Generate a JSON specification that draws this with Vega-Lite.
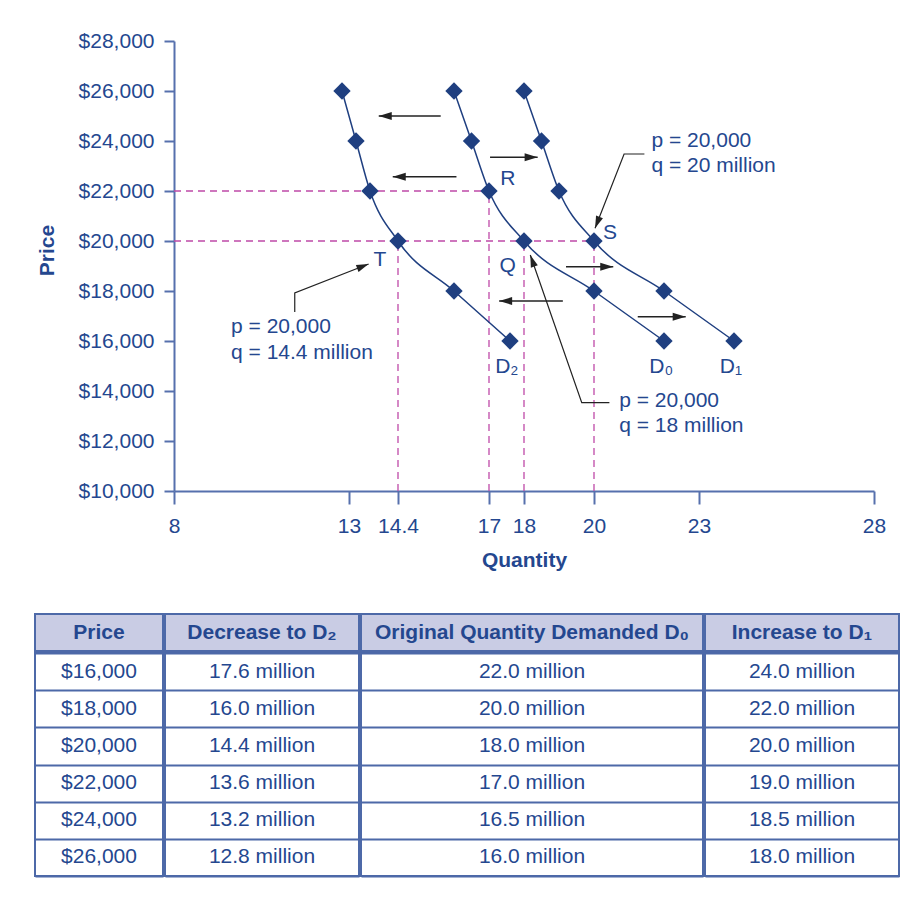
{
  "$schema": "https://vega.github.io/schema/vega-lite/v6.json",
  "padding": {"left": 34, "top": 30, "right": 5, "bottom": 5},
  "background": "white",
  "config": {
    "font": "Liberation Sans",
    "view": {"stroke": null},
    "axis": {"labelFont": "Liberation Sans", "titleFont": "Liberation Sans"},
    "text": {"font": "Liberation Sans"}
  },
  "datasets": {
    "demand": [
      {"curve": "D2", "price": 16000, "qty": 17.6},
      {"curve": "D2", "price": 18000, "qty": 16.0},
      {"curve": "D2", "price": 20000, "qty": 14.4},
      {"curve": "D2", "price": 22000, "qty": 13.6},
      {"curve": "D2", "price": 24000, "qty": 13.2},
      {"curve": "D2", "price": 26000, "qty": 12.8},
      {"curve": "D0", "price": 16000, "qty": 22.0},
      {"curve": "D0", "price": 18000, "qty": 20.0},
      {"curve": "D0", "price": 20000, "qty": 18.0},
      {"curve": "D0", "price": 22000, "qty": 17.0},
      {"curve": "D0", "price": 24000, "qty": 16.5},
      {"curve": "D0", "price": 26000, "qty": 16.0},
      {"curve": "D1", "price": 16000, "qty": 24.0},
      {"curve": "D1", "price": 18000, "qty": 22.0},
      {"curve": "D1", "price": 20000, "qty": 20.0},
      {"curve": "D1", "price": 22000, "qty": 19.0},
      {"curve": "D1", "price": 24000, "qty": 18.5},
      {"curve": "D1", "price": 26000, "qty": 18.0}
    ],
    "guides": [
      {"qty": 8, "qty2": 17, "price": 22000, "price2": 22000},
      {"qty": 8, "qty2": 20, "price": 20000, "price2": 20000},
      {"qty": 14.4, "qty2": 14.4, "price": 10000, "price2": 20000},
      {"qty": 17, "qty2": 17, "price": 10000, "price2": 22000},
      {"qty": 18, "qty2": 18, "price": 10000, "price2": 20000},
      {"qty": 20, "qty2": 20, "price": 10000, "price2": 20000}
    ],
    "shifts": [
      {"price": 25000, "qty": 13.85, "qty2": 15.62, "dir": "left"},
      {"price": 22570, "qty": 14.25, "qty2": 16.07, "dir": "left"},
      {"price": 23350, "qty": 18.39, "qty2": 17.03, "dir": "right"},
      {"price": 18970, "qty": 20.55, "qty2": 19.2, "dir": "right"},
      {"price": 17600, "qty": 17.29, "qty2": 19.11, "dir": "left"},
      {"price": 16970, "qty": 22.62, "qty2": 21.25, "dir": "right"}
    ],
    "leaders": [
      {"id": "S", "ord": 1, "qty": 21.44, "price": 23480},
      {"id": "S", "ord": 2, "qty": 20.86, "price": 23480},
      {"id": "S", "ord": 3, "qty": 20.03, "price": 20508},
      {"id": "T", "ord": 1, "qty": 11.45, "price": 17160},
      {"id": "T", "ord": 2, "qty": 11.45, "price": 17920},
      {"id": "T", "ord": 3, "qty": 13.56, "price": 19080},
      {"id": "Q", "ord": 1, "qty": 20.44, "price": 13532},
      {"id": "Q", "ord": 2, "qty": 19.65, "price": 13532},
      {"id": "Q", "ord": 3, "qty": 18.18, "price": 19440}
    ],
    "notes": [
      {"t": "p = 20,000", "qty": 21.64, "price": 24000},
      {"t": "q = 20 million", "qty": 21.64, "price": 23000},
      {"t": "p = 20,000", "qty": 9.63, "price": 16550},
      {"t": "q = 14.4 million", "qty": 9.63, "price": 15520},
      {"t": "p = 20,000", "qty": 20.72, "price": 13620},
      {"t": "q = 18 million", "qty": 20.72, "price": 12600}
    ],
    "labels": [
      {"t": "R", "qty": 17.54, "price": 22480},
      {"t": "S", "qty": 20.46, "price": 20310},
      {"t": "Q", "qty": 17.53, "price": 19010},
      {"t": "T", "qty": 13.88, "price": 19240},
      {"t": "D₂", "qty": 17.51, "price": 14950},
      {"t": "D₀", "qty": 21.92, "price": 14950},
      {"t": "D₁", "qty": 23.91, "price": 14950}
    ]
  },
  "spacing": 43,
  "vconcat": [
    {
      "spacing": 0,
      "hconcat": [
        {"width": 1, "height": 450, "data": {"values": []}, "mark": "point"},
        {
          "width": 700,
          "height": 450,
          "encoding": {
            "x": {
              "field": "qty", "type": "quantitative",
              "scale": {"domain": [8, 28], "nice": false, "zero": false},
              "axis": {
                "title": "Quantity", "values": [8, 13, 14.4, 17, 18, 20, 23, 28], "format": ".3~g",
                "labelFlush": false, "labelOverlap": false, "grid": false,
                "tickSize": 13, "tickWidth": 2, "tickColor": "#5670ad", "domainColor": "#5670ad", "domainWidth": 2,
                "labelFontSize": 21, "labelColor": "#24478f", "labelPadding": 11,
                "titleFontSize": 21, "titleFontWeight": "bold", "titleColor": "#24478f", "titlePadding": 13
              }
            },
            "y": {
              "field": "price", "type": "quantitative",
              "scale": {"domain": [10000, 28000], "nice": false, "zero": false},
              "axis": {
                "title": "Price", "values": [10000, 12000, 14000, 16000, 18000, 20000, 22000, 24000, 26000, 28000],
                "format": "$,.0f", "labelFlush": false, "labelOverlap": false, "grid": false,
                "tickSize": 10, "tickWidth": 2, "tickColor": "#5670ad", "domainColor": "#5670ad", "domainWidth": 2,
                "labelFontSize": 21, "labelColor": "#24478f", "labelPadding": 10,
                "titleFontSize": 21, "titleFontWeight": "bold", "titleColor": "#24478f", "titlePadding": 21, "titleY": 209
              }
            }
          },
          "layer": [
            {
              "data": {"name": "guides"},
              "mark": {"type": "rule", "color": "#bf4aa8", "strokeDash": [7, 5], "strokeWidth": 1.3},
              "encoding": {"x2": {"field": "qty2"}, "y2": {"field": "price2"}}
            },
            {
              "data": {"name": "demand"},
              "mark": {"type": "line", "color": "#1f3f80", "strokeWidth": 1.5, "interpolate": "monotone"},
              "encoding": {"detail": {"field": "curve", "type": "nominal"}}
            },
            {
              "data": {"name": "demand"},
              "mark": {"type": "point", "shape": "diamond", "filled": true, "size": 300, "color": "#1f3f80", "opacity": 1},
              "encoding": {}
            },
            {
              "data": {"name": "shifts"},
              "mark": {"type": "rule", "color": "#222222", "strokeWidth": 1.5},
              "encoding": {"x2": {"field": "qty2"}}
            },
            {
              "data": {"name": "shifts"},
              "mark": {"type": "point", "filled": true, "size": 169, "color": "#222222", "opacity": 1},
              "encoding": {
                "shape": {"field": "dir", "type": "nominal", "legend": null,
                  "scale": {"domain": ["left", "right"], "range": ["M0,0L2,-0.6L2,0.6Z", "M0,0L-2,-0.6L-2,0.6Z"]}}
              }
            },
            {
              "data": {"name": "leaders"},
              "mark": {"type": "line", "color": "#222222", "strokeWidth": 1.2},
              "encoding": {"detail": {"field": "id", "type": "nominal"}, "order": {"field": "ord", "type": "quantitative"}}
            },
            {
              "data": {"name": "leaders"},
              "transform": [{"filter": "datum.ord === 3"}],
              "mark": {"type": "point", "filled": true, "size": 150, "color": "#222222", "opacity": 1},
              "encoding": {
                "shape": {"field": "id", "type": "nominal", "legend": null,
                  "scale": {"domain": ["S", "T", "Q"], "range": ["M0,0L1.285,-1.646L0.167,-2.082Z", "M0,0L-2.081,0.171L-1.643,1.289Z", "M0,0L0.096,2.087L1.228,1.689Z"]}}
              }
            },
            {
              "data": {"name": "notes"},
              "mark": {"type": "text", "align": "left", "baseline": "middle", "fontSize": 21, "color": "#24478f"},
              "encoding": {"text": {"field": "t", "type": "nominal"}}
            },
            {
              "data": {"name": "labels"},
              "mark": {"type": "text", "align": "center", "baseline": "middle", "fontSize": 21, "color": "#24478f"},
              "encoding": {"text": {"field": "t", "type": "nominal"}}
            }
          ],
          "resolve": {"scale": {"shape": "independent"}}
        }
      ]
    },
    {
      "spacing": 0,
      "vconcat": [
        {
          "spacing": 0,
          "hconcat": [
            {"width": 128, "height": 37, "view": {"fill": "#c9cce4", "stroke": "#4d69a8", "strokeWidth": 2},
              "data": {"values": [{"h": "Price"}]},
              "mark": {"type": "text", "fontSize": 21, "fontWeight": "bold", "color": "#24478f", "baseline": "middle"},
              "encoding": {"text": {"field": "h", "type": "nominal"}}},
            {"width": 194, "height": 37, "view": {"fill": "#c9cce4", "stroke": "#4d69a8", "strokeWidth": 2},
              "data": {"values": [{"h": "Decrease to D₂"}]},
              "mark": {"type": "text", "fontSize": 21, "fontWeight": "bold", "color": "#24478f", "baseline": "middle"},
              "encoding": {"text": {"field": "h", "type": "nominal"}}},
            {"width": 342, "height": 37, "view": {"fill": "#c9cce4", "stroke": "#4d69a8", "strokeWidth": 2},
              "data": {"values": [{"h": "Original Quantity Demanded D₀"}]},
              "mark": {"type": "text", "fontSize": 21, "fontWeight": "bold", "color": "#24478f", "baseline": "middle"},
              "encoding": {"text": {"field": "h", "type": "nominal"}}},
            {"width": 194, "height": 37, "view": {"fill": "#c9cce4", "stroke": "#4d69a8", "strokeWidth": 2},
              "data": {"values": [{"h": "Increase to D₁"}]},
              "mark": {"type": "text", "fontSize": 21, "fontWeight": "bold", "color": "#24478f", "baseline": "middle"},
              "encoding": {"text": {"field": "h", "type": "nominal"}}}
          ]
        },
        {
          "spacing": 0,
          "hconcat": [
            {"width": 128, "height": 223, "view": {"stroke": "#4d69a8", "strokeWidth": 2},
              "data": {"name": "demand"},
              "transform": [{"filter": "datum.curve === 'D0'"}],
              "mark": {"type": "text", "fontSize": 21, "color": "#24478f", "baseline": "middle"},
              "encoding": {
                "y": {"field": "price", "type": "ordinal", "scale": {"type": "band", "paddingInner": 0, "paddingOuter": 0},
                  "axis": {"title": null, "labels": false, "ticks": false, "domain": false, "grid": true, "tickBand": "extent", "gridColor": "#4d69a8", "gridWidth": 2, "gridOpacity": 1}},
                "text": {"field": "price", "type": "quantitative", "format": "$,.0f"}
              }},
            {"width": 194, "height": 223, "view": {"stroke": "#4d69a8", "strokeWidth": 2},
              "data": {"name": "demand"},
              "transform": [{"filter": "datum.curve === 'D2'"}, {"calculate": "format(datum.qty, '.1f') + ' million'", "as": "lbl"}],
              "mark": {"type": "text", "fontSize": 21, "color": "#24478f", "baseline": "middle"},
              "encoding": {
                "y": {"field": "price", "type": "ordinal", "scale": {"type": "band", "paddingInner": 0, "paddingOuter": 0},
                  "axis": {"title": null, "labels": false, "ticks": false, "domain": false, "grid": true, "tickBand": "extent", "gridColor": "#4d69a8", "gridWidth": 2, "gridOpacity": 1}},
                "text": {"field": "lbl", "type": "nominal"}
              }},
            {"width": 342, "height": 223, "view": {"stroke": "#4d69a8", "strokeWidth": 2},
              "data": {"name": "demand"},
              "transform": [{"filter": "datum.curve === 'D0'"}, {"calculate": "format(datum.qty, '.1f') + ' million'", "as": "lbl"}],
              "mark": {"type": "text", "fontSize": 21, "color": "#24478f", "baseline": "middle"},
              "encoding": {
                "y": {"field": "price", "type": "ordinal", "scale": {"type": "band", "paddingInner": 0, "paddingOuter": 0},
                  "axis": {"title": null, "labels": false, "ticks": false, "domain": false, "grid": true, "tickBand": "extent", "gridColor": "#4d69a8", "gridWidth": 2, "gridOpacity": 1}},
                "text": {"field": "lbl", "type": "nominal"}
              }},
            {"width": 194, "height": 223, "view": {"stroke": "#4d69a8", "strokeWidth": 2},
              "data": {"name": "demand"},
              "transform": [{"filter": "datum.curve === 'D1'"}, {"calculate": "format(datum.qty, '.1f') + ' million'", "as": "lbl"}],
              "mark": {"type": "text", "fontSize": 21, "color": "#24478f", "baseline": "middle"},
              "encoding": {
                "y": {"field": "price", "type": "ordinal", "scale": {"type": "band", "paddingInner": 0, "paddingOuter": 0},
                  "axis": {"title": null, "labels": false, "ticks": false, "domain": false, "grid": true, "tickBand": "extent", "gridColor": "#4d69a8", "gridWidth": 2, "gridOpacity": 1}},
                "text": {"field": "lbl", "type": "nominal"}
              }}
          ]
        }
      ]
    }
  ]
}
